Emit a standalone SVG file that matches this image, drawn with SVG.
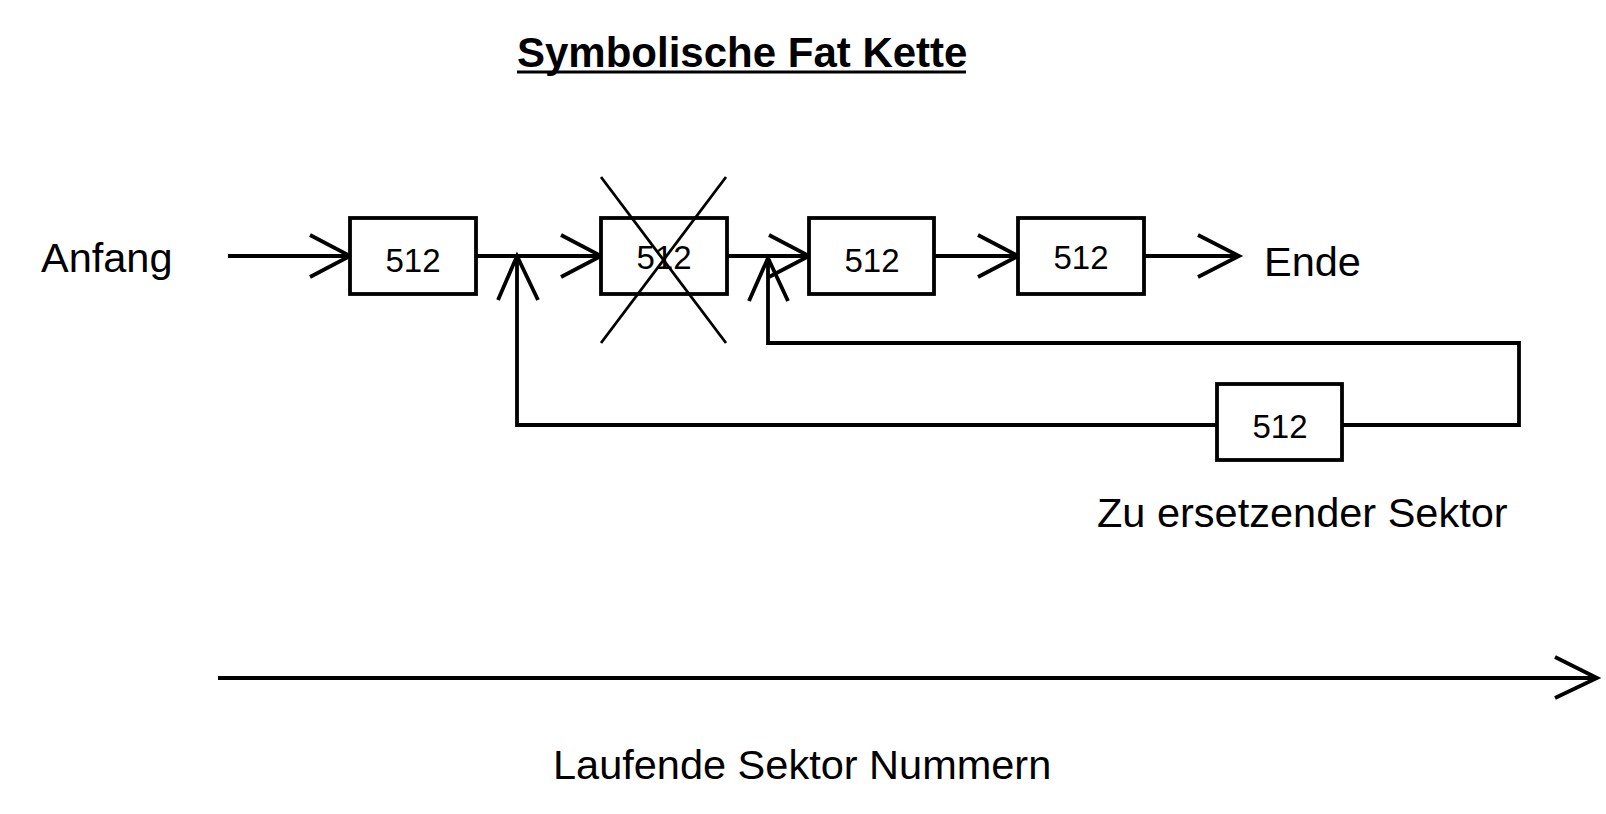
<svg xmlns="http://www.w3.org/2000/svg" width="1606" height="814" viewBox="0 0 1606 814">
<style>
.bg{fill:#fff}
.box{fill:#fff;stroke:#000;stroke-width:3.8}
.ln{fill:none;stroke:#000;stroke-width:3.8;stroke-linejoin:miter}
.ah{fill:none;stroke:#000;stroke-width:3.8;stroke-linecap:butt;stroke-linejoin:miter}
.x{fill:none;stroke:#000;stroke-width:2.8}
.t{font-family:"Liberation Sans",Arial,sans-serif;font-size:41.5px;fill:#000}
.n{font-family:"Liberation Sans",Arial,sans-serif;font-size:33px;fill:#000;text-anchor:middle}
.title{font-family:"Liberation Sans",Arial,sans-serif;font-size:42px;font-weight:bold;fill:#000}
</style>
<rect class="bg" x="0" y="0" width="1606" height="814"/>
<text class="title" x="517" y="67">Symbolische Fat Kette</text>
<line x1="517" y1="72" x2="966" y2="72" stroke="#000" stroke-width="3"/>
<text class="t" x="41" y="272">Anfang</text>
<text class="t" x="1264" y="276">Ende</text>
<text class="t" x="1097" y="527">Zu ersetzender Sektor</text>
<text class="t" x="553" y="779">Laufende Sektor Nummern</text>
<g id="connectors">
<line class="ln" x1="228" y1="256" x2="350" y2="256"/>
<polyline class="ah" points="310,235 350,256 310,277"/>
<line class="ln" x1="476" y1="256" x2="601" y2="256"/>
<polyline class="ah" points="561,235 601,256 561,277"/>
<line class="ln" x1="727" y1="256" x2="809" y2="256"/>
<polyline class="ah" points="769,235 809,256 769,277"/>
<line class="ln" x1="934" y1="256" x2="1018" y2="256"/>
<polyline class="ah" points="978,235 1018,256 978,277"/>
<line class="ln" x1="1144" y1="256" x2="1239" y2="256"/>
<polyline class="ah" points="1198,235 1239,256 1198,277"/>
<polyline class="ln" points="1342,425 1519,425 1519,343 768,343 768,258"/>
<polyline class="ah" points="749,301 768,258 788,301"/>
<polyline class="ln" points="1217,425 517,425 517,256"/>
<polyline class="ah" points="498,300 517,256 538,300"/>
<line class="ln" x1="218" y1="678" x2="1597" y2="678"/>
<polyline class="ah" points="1555,657 1597,678 1555,698"/>
</g>
<g id="node1"><rect class="box" x="350" y="218" width="126" height="76"/><text class="n" x="413" y="272">512</text></g>
<g id="node2"><rect class="box" x="601" y="218" width="126" height="76"/><text class="n" x="664" y="269">512</text>
<line class="x" x1="601" y1="177" x2="726" y2="343"/><line class="x" x1="726" y1="177" x2="601" y2="343"/></g>
<g id="node3"><rect class="box" x="809" y="218" width="125" height="76"/><text class="n" x="872" y="272">512</text></g>
<g id="node4"><rect class="box" x="1018" y="218" width="126" height="76"/><text class="n" x="1081" y="269">512</text></g>
<g id="node5"><rect class="box" x="1217" y="384" width="125" height="76"/><text class="n" x="1280" y="438">512</text></g>
</svg>
